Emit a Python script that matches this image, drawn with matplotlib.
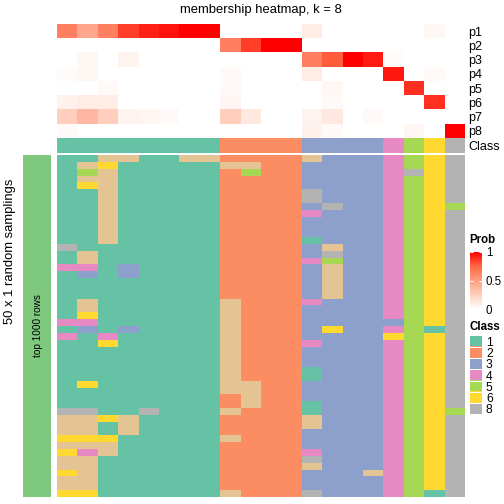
import numpy as np
import matplotlib
matplotlib.use('Agg')
import matplotlib.pyplot as plt
from matplotlib.colors import ListedColormap, LinearSegmentedColormap, Normalize
from matplotlib.cm import ScalarMappable

# ============ Dataset ============
# membership probabilities, one list per class row (20 samples)
p1 = [0.64, 0.45, 0.64, 0.85, 0.92, 0.95, 1, 1, 0, 0, 0, 0, 0.1, 0, 0, 0, 0, 0, 0.04, 0]
p2 = [0, 0, 0, 0, 0, 0, 0, 0, 0.64, 0.85, 1, 1, 0, 0, 0, 0, 0, 0, 0, 0]
p3 = [0, 0.04, 0, 0.06, 0, 0, 0, 0, 0, 0, 0, 0, 0.64, 0.78, 1, 0.93, 0.02, 0, 0, 0]
p4 = [0.02, 0.04, 0, 0, 0, 0, 0, 0, 0.03, 0, 0, 0, 0.1, 0, 0, 0, 0.94, 0, 0.03, 0]
p5 = [0, 0, 0.03, 0, 0, 0, 0, 0, 0.03, 0, 0, 0, 0, 0.04, 0, 0, 0, 0.88, 0, 0]
p6 = [0.07, 0.1, 0.1, 0, 0, 0, 0, 0, 0.05, 0, 0, 0, 0, 0.03, 0, 0, 0, 0, 0.88, 0]
p7 = [0.25, 0.37, 0.25, 0.06, 0.05, 0.03, 0, 0, 0.25, 0.12, 0, 0, 0.06, 0.12, 0, 0.03, 0, 0, 0, 0]
p8 = [0.03, 0, 0, 0, 0, 0, 0, 0, 0, 0, 0, 0, 0.07, 0.03, 0, 0, 0, 0.05, 0, 1]
prob_labels = ['p1', 'p2', 'p3', 'p4', 'p5', 'p6', 'p7', 'p8']

sample_class = [1, 1, 1, 1, 1, 1, 1, 1, 2, 2, 2, 2, 3, 3, 3, 3, 4, 5, 6, 8]

# class assigned in each of the 50 random samplings (one string per sampling)
samplings = [
    "11771177222273334568", "17611111772233334568", "15711111252233334868",
    "17711111222233334568", "16711111222233334568", "11711111222283334568",
    "11711111222283334568", "11711111222238334565", "11711111222243334568",
    "11711111222233334568", "11711111222233334568", "11711111222233334568",
    "11711111222213334568", "81111111222237334568", "17111111222238334568",
    "17111111222245334568", "44131111222237334568", "13131111222237334568",
    "11111111222237334568", "11111111222237334568", "11111111222237334568",
    "17111111722243334568", "17111111722233334568", "16111111722233334568",
    "44111111722233333568", "13131111722236334518", "41411111722233336568",
    "11611111722243334568", "11111111722233334568", "11111111722233334568",
    "11111111722233334568", "11111111722213334568", "11111111722213334568",
    "16111111772233334568", "11111111772233334568", "11111111272233334568",
    "11111111272213334568", "88118111722213334565", "77671111222273334568",
    "77171111222273334568", "77171111222233334568", "66611111722233334568",
    "77711111222233334568", "64711111222243334568", "77111111222283334568",
    "77111111222273334568", "67111111222233374568", "77111111222233334568",
    "77111111222233334568", "66111111722283334518",
]

class_colors = ['#66C2A5', '#FC8D62', '#8DA0CB', '#E78AC3',
                '#A6D854', '#FFD92F', '#E5C494', '#B3B3B3']
legend_classes = [1, 2, 3, 4, 5, 6, 8]

# ============ Setup ============
plt.rcParams['font.family'] = ['Liberation Sans', 'DejaVu Sans']
W, H = 504, 504
fig = plt.figure(figsize=(W / 72, H / 72), dpi=72)


def box(x, y, w, h):
    return [x / W, 1 - (y + h) / H, w / W, h / H]


prob_cmap = LinearSegmentedColormap.from_list(
    'prob', ['#FFFFFF', '#FFCFBE', '#FF9E81', '#FF6846', '#FF0000'])
class_cmap = ListedColormap(class_colors)
cls_kw = dict(cmap=class_cmap, vmin=0.5, vmax=8.5, aspect='auto', interpolation='nearest')


def clean(ax):
    for s in ax.spines.values():
        s.set_visible(False)
    ax.set_xticks([])
    ax.set_yticks([])


# ============ Membership heatmap ============
membership = np.array([p1, p2, p3, p4, p5, p6, p7, p8])
ax_top = fig.add_axes(box(57, 24, 408, 114))
ax_top.imshow(membership, cmap=prob_cmap, vmin=0, vmax=1, aspect='auto', interpolation='nearest')
clean(ax_top)
ax_top.yaxis.tick_right()
ax_top.set_yticks(range(len(prob_labels)))
ax_top.set_yticklabels(prob_labels, fontsize=12.5)
ax_top.tick_params(axis='y', length=0, pad=3)

ax_cls = fig.add_axes(box(57, 138, 408, 15))
ax_cls.imshow(np.array([sample_class]), **cls_kw)
clean(ax_cls)
ax_cls.yaxis.tick_right()
ax_cls.set_yticks([0])
ax_cls.set_yticklabels(['Class'], fontsize=12.5)
ax_cls.tick_params(axis='y', length=0, pad=3)

fig.text(261 / W, 1 - 10 / H, 'membership heatmap, k = 8', ha='center', va='center', fontsize=13)

# ============ Random samplings heatmap ============
samp = np.array([[int(c) for c in row] for row in samplings])
ax_main = fig.add_axes(box(57, 155, 408, 342))
ax_main.imshow(samp, **cls_kw)
clean(ax_main)

ax_left = fig.add_axes(box(23, 155, 28, 342))
ax_left.set_facecolor('#7FC97F')
clean(ax_left)
ax_left.text(0.55, 0.5, 'top 1000 rows', rotation=90, ha='center', va='center',
             fontsize=10, transform=ax_left.transAxes)

fig.text(10 / W, 1 - 251 / H, '50 x 1 random samplings', rotation=90,
         ha='center', va='center', fontsize=13)

# ============ Legends ============
fig.text(469 / W, 1 - 240 / H, 'Prob', fontsize=11.5, fontweight='bold', va='center')
ax_cb = fig.add_axes(box(470, 252, 12, 57))
cb = fig.colorbar(ScalarMappable(norm=Normalize(0, 1), cmap=prob_cmap), cax=ax_cb, ticks=[0, 0.5, 1])
cb.outline.set_visible(False)
cb.ax.set_yticklabels(['0', '0.5', '1'])
cb.ax.tick_params(axis='y', direction='in', length=3, color='white', width=1,
                  left=True, right=True, labelsize=11.5, pad=4)

fig.text(469 / W, 1 - 327 / H, 'Class', fontsize=11.5, fontweight='bold', va='center')
ax_leg = fig.add_axes(box(470, 336, 12, 78))
ax_leg.imshow(np.array(legend_classes)[:, None], **cls_kw)
for i in range(len(legend_classes) - 1):
    ax_leg.axhline(i + 0.5, color='white', lw=1)
clean(ax_leg)
ax_leg.yaxis.tick_right()
ax_leg.set_yticks(range(len(legend_classes)))
ax_leg.set_yticklabels([str(c) for c in legend_classes], fontsize=12)
ax_leg.tick_params(axis='y', length=0, pad=4)

fig.savefig('out.png', dpi=72)
